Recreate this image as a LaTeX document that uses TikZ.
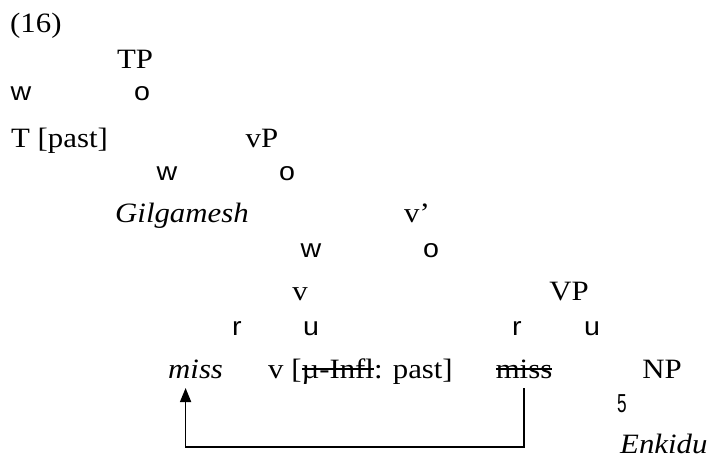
\documentclass[tikz,border=0pt]{standalone}
\usepackage{fontspec}
\usepackage{tikz}
\usetikzlibrary{shapes,arrows,arrows.meta}
\setmainfont{Liberation Serif}[FakeStretch=1.1]
\newfontfamily\branchfont{Liberation Sans}[FakeStretch=1.1]
\newcommand{\struck}[1]{\setbox0\hbox{#1}\rlap{\raisebox{0.3em}{\rule{\wd0}{1.4pt}}}\box0}
\tikzstyle{cat} = [inner sep=0pt, anchor=base, font=\fontsize{28}{34}\selectfont]
\tikzstyle{word} = [cat, anchor=base west]
\tikzstyle{branch} = [inner sep=0pt, anchor=base, font=\branchfont\fontsize{26}{30}\selectfont]
\tikzstyle{line} = [draw, line width=1.6pt, -{Triangle[length=14pt,width=11pt]}]

\begin{document}
\begin{tikzpicture}[x=1pt, y=-1pt]
        \useasboundingbox (0,0) rectangle (710,459);
        % Place nodes
        \node [word] (num) at (10,32) {(16)};
        \node [cat] (tp) at (135,68) {TP};
        \node [branch] (tpl) at (21,100) {w};
        \node [branch] (tpr) at (142,100) {o};
        \node [word] (t) at (11,147) {T [past]};
        \node [cat] (vp) at (262,147) {vP};
        \node [branch] (vpl) at (167,180) {w};
        \node [branch] (vpr) at (287,180) {o};
        \node [word] (subj) at (115,222) {\textit{Gilgamesh}};
        \node [cat] (vbar) at (417,222) {v'};
        \node [branch] (vbarl) at (311,257) {w};
        \node [branch] (vbarr) at (431,257) {o};
        \node [cat] (v) at (300,300) {v};
        \node [cat] (bigvp) at (569,300) {VP};
        \node [branch] (vl) at (237,335) {r};
        \node [branch] (vr) at (311,335) {u};
        \node [branch] (bigvpl) at (517,335) {r};
        \node [branch] (bigvpr) at (592,335) {u};
        \node [word] (moved) at (168,378) {\textit{miss}};
        \node [word] (infl) at (268,378) {v [\struck{µ-Infl}: past]};
        \node [cat] (trace) at (524,378) {\struck{miss}};
        \node [cat] (np) at (662,378) {NP};
        \node [branch] (npl) at (622,412) {\scalebox{0.6}[1]{5}};
        \node [word] (obj) at (620,453) {\textit{Enkidu}};
        \coordinate (bottom) at (0,437);

        % Draw edges
        \draw [line] ([yshift=-10pt]trace.base) -- ([yshift=-10pt]trace.base |- bottom) -| ([xshift=-10pt,yshift=-10pt]moved.base);
    \end{tikzpicture}
\end{document}
